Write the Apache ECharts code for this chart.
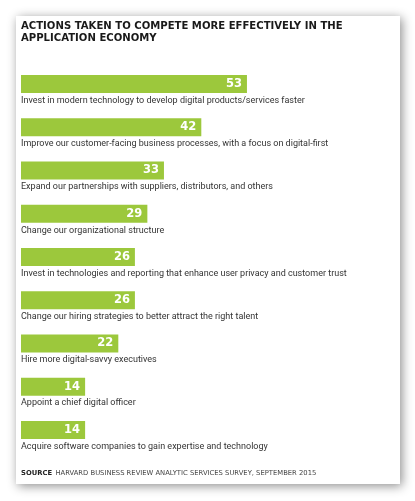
<!DOCTYPE html>
<html>
<head>
<meta charset="utf-8">
<script src="https://cdn.jsdelivr.net/npm/echarts@6/dist/echarts.min.js"></script>
<style>
html,body{margin:0;padding:0;background:#fff;}
#c{width:415px;height:501px;}
</style>
</head>
<body>
<div id="c"></div>
<script>
const categories = [
  "Invest in modern technology to develop digital products/services faster",
  "Improve our customer-facing business processes, with a focus on digital-first",
  "Expand our partnerships with suppliers, distributors, and others",
  "Change our organizational structure",
  "Invest in technologies and reporting that enhance user privacy and customer trust",
  "Change our hiring strategies to better attract the right talent",
  "Hire more digital-savvy executives",
  "Appoint a chief digital officer",
  "Acquire software companies to gain expertise and technology"
];
const values = [53, 42, 33, 29, 26, 26, 22, 14, 14];
const titleText = "ACTIONS TAKEN TO COMPETE MORE EFFECTIVELY IN THE\nAPPLICATION ECONOMY";
const sourceLabel = "SOURCE";
const sourceText = "HARVARD BUSINESS REVIEW ANALYTIC SERVICES SURVEY, SEPTEMBER 2015";

const chart = echarts.init(document.getElementById('c'), null, {renderer: 'canvas'});
chart.setOption({
  animation: false,
  backgroundColor: '#ffffff',
  graphic: [
    {
      type: 'rect', z: -10,
      shape: {x: 16, y: 16, width: 384, height: 468},
      style: {fill: '#ffffff', shadowBlur: 10, shadowColor: 'rgba(0,0,0,0.45)', shadowOffsetX: 2, shadowOffsetY: 2}
    },
    {
      type: 'text', left: 21, top: 467,
      style: {
        text: '{b|' + sourceLabel + '} {n|' + sourceText + '}',
        rich: {
          b: {fontFamily: 'DejaVu Sans', fontWeight: 'bold', fontSize: 6.8, fill: '#222'},
          n: {fontFamily: 'DejaVu Sans', fontSize: 6.8, fill: '#444'}
        }
      }
    }
  ],
  title: {
    text: titleText,
    left: 16, top: 15,
    textStyle: {fontFamily: 'DejaVu Sans', fontWeight: 'bold', fontSize: 10.1, color: '#1a1a1a', lineHeight: 12}
  },
  grid: {left: 21, right: 56, top: 62.4, bottom: 49.4, containLabel: false},
  xAxis: {type: 'value', min: -1.45, max: 80, startValue: -1.45, show: false},
  yAxis: {
    type: 'category', inverse: true, data: categories,
    axisLine: {show: false}, axisTick: {show: false},
    axisLabel: {
      inside: true, margin: 0, align: 'left', verticalAlign: 'top',
      padding: [12, 0, 0, 0],
      fontFamily: 'Roboto', fontSize: 9, color: '#333'
    }
  },
  series: [{
    type: 'bar', data: values, barWidth: 18,
    itemStyle: {color: '#9cc83c'},
    label: {
      show: true, position: 'insideRight', distance: 5,
      color: '#ffffff', fontFamily: 'DejaVu Sans', fontWeight: 'bold', fontSize: 11.5
    }
  }]
});
</script>
</body>
</html>
